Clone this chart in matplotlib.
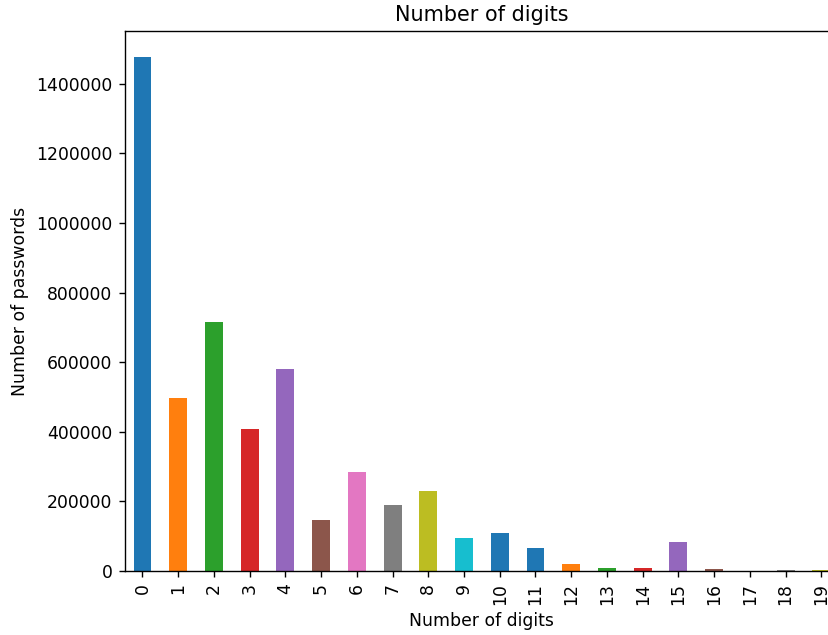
from matplotlib import pyplot as plt

digits = list(range(20))
passwords = [1477000, 497000, 716000, 408000, 581000, 147000, 284000, 191000,
             230000, 94000, 108000, 65000, 20000, 8600, 8600, 83000, 5000, 500,
             4000, 4000]
colors = ['tab:blue', 'tab:orange', 'tab:green', 'tab:red', 'tab:purple',
          'tab:brown', 'tab:pink', 'tab:gray', 'tab:olive', 'tab:cyan',
          'tab:blue', 'tab:blue', 'tab:orange', 'tab:green', 'tab:red',
          'tab:purple', 'tab:brown', 'tab:pink', 'tab:gray', 'tab:olive']

dpi = 124.5
fig = plt.figure(figsize=(828 / dpi, 635 / dpi), dpi=dpi)
ax = fig.add_axes([0.1505, 0.1008, 0.863, 0.850])
ax.bar(digits, passwords, width=0.5, color=colors)
ax.set_xlim(-0.5, 19.5)
ax.set_xticks(digits)
ax.set_xticklabels([str(d) for d in digits], rotation=90)
ax.ticklabel_format(axis='y', style='plain')
ax.set_xlabel('Number of digits')
ax.set_ylabel('Number of passwords')
ax.set_title('Number of digits')

fig.savefig('out.png', dpi=dpi)
